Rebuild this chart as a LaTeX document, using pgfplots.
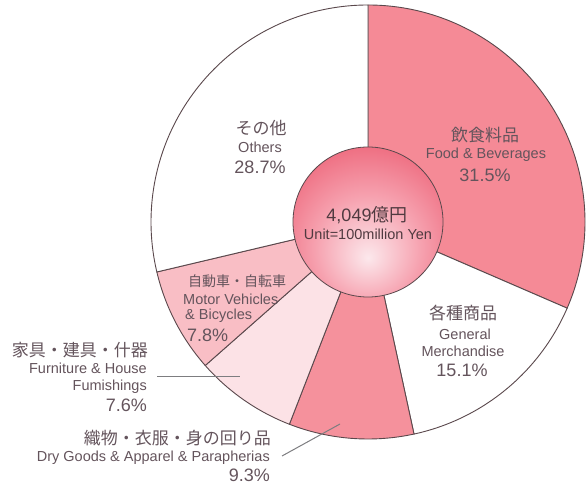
\documentclass[border=0pt]{standalone}
\usepackage{pgfplots}
\pgfplotsset{compat=1.18}
\usepackage{pgfplotstable}
\usepackage{fontspec}
\setmainfont{Liberation Sans}
\newfontfamily\jp{Noto Sans CJK JP}
\definecolor{cfood}{RGB}{245,138,150}
\definecolor{cgen}{RGB}{255,255,255}
\definecolor{cdry}{RGB}{245,145,156}
\definecolor{cfurn}{RGB}{252,226,230}
\definecolor{cmotor}{RGB}{249,190,197}
\definecolor{cother}{RGB}{255,255,255}
\definecolor{edgec}{RGB}{90,72,76}
\definecolor{txt}{RGB}{100,84,92}
\definecolor{ctxt}{RGB}{80,58,64}
\definecolor{leadc}{RGB}{125,125,128}
\definecolor{ballA}{RGB}{252,232,236}
\definecolor{ballB}{RGB}{246,160,174}
\definecolor{ballC}{RGB}{234,82,104}
\definecolor{ballD}{RGB}{220,58,82}
\pgfdeclareradialshading{ball}{\pgfpoint{0bp}{-12bp}}{color(0bp)=(ballA); color(18bp)=(ballB); color(40bp)=(ballC); color(52bp)=(ballD); color(70bp)=(ballD)}
\tikzset{
  jp/.style={font=\jp\fontsize{17bp}{20bp}\selectfont, text=txt, inner sep=0pt},
  en/.style={font=\fontsize{14.5bp}{17bp}\selectfont, text=txt, inner sep=0pt},
  pc/.style={font=\fontsize{18bp}{21bp}\selectfont, text=txt, inner sep=0pt}}

\pgfplotstableread{
pct fillc
31.5 cfood
15.1 cgen
9.3 cdry
7.6 cfurn
7.8 cmotor
28.7 cother
}\slices

\begin{document}
\begin{tikzpicture}
\begin{axis}[hide axis, x=1bp, y=1bp, xmin=0, xmax=587, ymin=0, ymax=485,
  scale only axis, clip=false]
\coordinate (bl) at (axis cs:0,0);
\coordinate (tr) at (axis cs:587,485);
\pgfmathsetmacro\angA{90}
\pgfplotsforeachungrouped \i in {0,...,5}{%
  \pgfplotstablegetelem{\i}{pct}\of\slices \let\sp=\pgfplotsretval
  \pgfplotstablegetelem{\i}{fillc}\of\slices \let\sc=\pgfplotsretval
  \pgfmathsetmacro\angB{\angA-3.6*\sp}%
  \edef\temp{\noexpand\filldraw[fill=\sc, draw=edgec, line width=0.9bp]
    (axis cs:368,263) -- ++(\angA:217bp) arc[start angle=\angA, end angle=\angB, radius=217bp] -- cycle;}%
  \temp
  \global\let\angA=\angB
}
\shade[shading=ball] (axis cs:368,263) circle[radius=75bp];
\draw[edgec, line width=0.8bp] (axis cs:368,263) circle[radius=75bp];
% leader lines
\draw[leadc, line width=1bp] (axis cs:157,108) -- (axis cs:240,108);
\draw[leadc, line width=1bp] (axis cs:282,29) -- (axis cs:340,61);
% center
\node[font=\fontsize{18bp}{21bp}\selectfont, text=ctxt, inner sep=0pt] at (axis cs:367,270) {4,049{\jp 億円}};
\node[en, text=ctxt] at (axis cs:368,251) {Unit=100million Yen};
% Food
\node[jp] at (axis cs:485,350) {飲食料品};
\node[en] at (axis cs:486,330) {Food \& Beverages};
\node[pc] at (axis cs:485,310) {31.5\%};
% Others
\node[jp] at (axis cs:261,357) {その他};
\node[en] at (axis cs:260,338) {Others};
\node[pc] at (axis cs:260,318) {28.7\%};
% General
\node[jp] at (axis cs:463,172) {各種商品};
\node[en] at (axis cs:465,151) {General};
\node[en] at (axis cs:463,134) {Merchandise};
\node[pc] at (axis cs:462,115) {15.1\%};
% Motor
\node[jp, anchor=west, font=\jp\fontsize{14bp}{17bp}\selectfont] at (axis cs:188,204) {自動車・自転車};
\node[en, anchor=west] at (axis cs:183,186) {Motor Vehicles};
\node[en, anchor=west] at (axis cs:185,169) {\& Bicycles};
\node[pc, anchor=west] at (axis cs:187,150) {7.8\%};
% Furniture
\node[jp, anchor=east] at (axis cs:148,135) {家具・建具・什器};
\node[en, anchor=east] at (axis cs:147,117) {Furniture \& House};
\node[en, anchor=east] at (axis cs:147,98) {Fumishings};
\node[pc, anchor=east] at (axis cs:147,80) {7.6\%};
% Dry goods
\node[jp, anchor=east] at (axis cs:271,47) {織物・衣服・身の回り品};
\node[en, anchor=east] at (axis cs:270,27) {Dry Goods \& Apparel \& Parapherias};
\node[pc, anchor=east] at (axis cs:270,10) {9.3\%};
\end{axis}
\pgfresetboundingbox
\path (bl) rectangle (tr);
\end{tikzpicture}
\end{document}
